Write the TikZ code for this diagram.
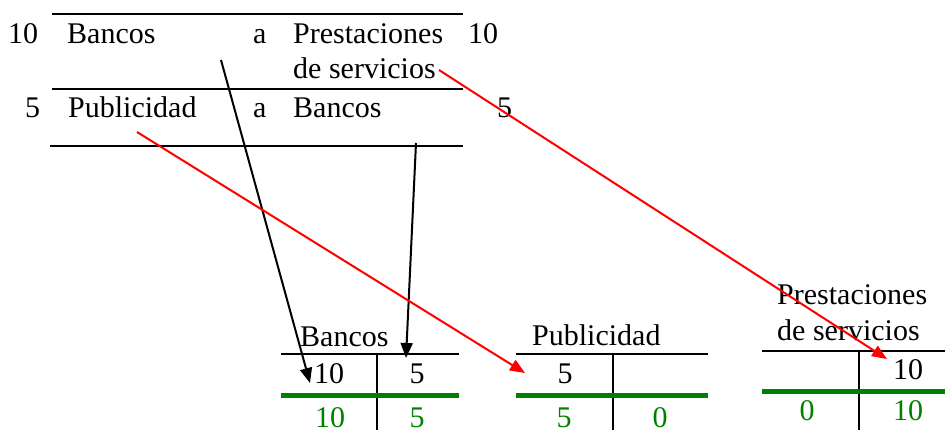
\documentclass[tikz,border=0pt]{standalone}
\usepackage{fontspec}
\setmainfont{Liberation Serif}
\usetikzlibrary{arrows.meta}
\definecolor{vgreen}{RGB}{0,128,0}
\begin{document}
\begin{tikzpicture}[x=1pt,y=-1pt,
  every node/.style={inner sep=0pt,font=\fontsize{30}{36}\selectfont},
  txt/.style={anchor=base west},
  num/.style={anchor=base},
  saldo/.style={anchor=base,text=vgreen},
  raya/.style={line width=2.5pt},
  total/.style={line width=5pt,color=vgreen},
  flecha/.style={line width=2pt,-{Triangle[length=15pt,width=12pt]}}]
\useasboundingbox (0,0) rectangle (945,430);
% libro diario
\draw [raya] (52,14) -- (463,14);
\draw [raya] (52,89) -- (463,89);
\draw [raya] (50,146) -- (463,146);
\node [txt] (imp1) at (8,44) {10};
\node [txt] (deb1) at (67,44) {Bancos};
\node [txt] (a1) at (253,44) {a};
\node [txt] (hab1) at (293,44) {Prestaciones};
\node [txt] (hab1b) at (293,79) {de servicios};
\node [txt] (imp1b) at (468,44) {10};
\node [txt] (imp2) at (25,118) {5};
\node [txt] (deb2) at (68,118) {Publicidad};
\node [txt] (a2) at (253,118) {a};
\node [txt] (hab2) at (293,118) {Bancos};
\node [txt] (imp2b) at (497,118) {5};
% cuenta Bancos
\node [txt] (tBancos) at (300,346) {Bancos};
\draw [raya] (281,354) -- (459,354);
\draw [raya] (377,354) -- (377,430);
\draw [total] (281,395) -- (459,395);
\node [num] (bD) at (329,383) {10};
\node [num] (bH) at (417,383) {5};
\node [saldo] (bSD) at (330,427) {10};
\node [saldo] (bSH) at (417,427) {5};
% cuenta Publicidad
\node [txt] (tPubli) at (532,345) {Publicidad};
\draw [raya] (516,354) -- (708,354);
\draw [raya] (613,354) -- (613,430);
\draw [total] (516,395) -- (708,395);
\node [num] (pD) at (565,383) {5};
\node [saldo] (pSD) at (564,427) {5};
\node [saldo] (pSH) at (660,427) {0};
% cuenta Prestaciones de servicios
\node [txt] (tPrest) at (777,305) {Prestaciones};
\node [txt] (tPrestb) at (777,340) {de servicios};
\draw [raya] (762,351) -- (945,351);
\draw [raya] (859,351) -- (859,430);
\draw [total] (762,391) -- (945,391);
\node [num] (sH) at (908,379) {10};
\node [saldo] (sSD) at (807,420) {0};
\node [saldo] (sSH) at (908,420) {10};
% flechas
\coordinate (f1) at (221,60);
\coordinate (f1e) at (310,383);
\coordinate (f2) at (416,143);
\coordinate (f2e) at (406,358);
\coordinate (r1) at (439,70);
\coordinate (r1e) at (887,359);
\coordinate (r2) at (137,132);
\coordinate (r2e) at (525,373);
\draw [flecha] (f1) -- (f1e);
\draw [flecha] (f2) -- (f2e);
\draw [flecha,red] (r1) -- (r1e);
\draw [flecha,red] (r2) -- (r2e);
\end{tikzpicture}
\end{document}
